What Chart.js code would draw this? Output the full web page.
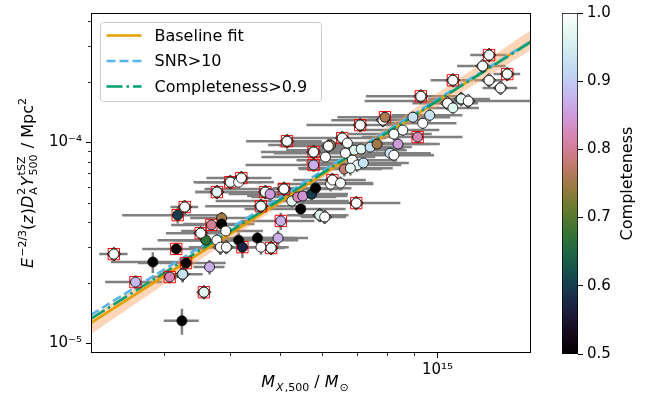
<!DOCTYPE html>
<html>
<head>
<meta charset="utf-8">
<script src="https://cdn.jsdelivr.net/npm/chart.js@4.4.0/dist/chart.umd.min.js"></script>
<style>
  html, body { margin: 0; padding: 0; background: #fff; }
  #wrap { position: relative; width: 649px; height: 404px; }
  #main { position: absolute; left: 0; top: 0; }
  #cbar { position: absolute; left: 540px; top: 0; }
</style>
</head>
<body>
<div id="wrap">
  <canvas id="main" width="540" height="404"></canvas>
  <canvas id="cbar" width="109" height="404"></canvas>
</div>
<script>
const FAMILY = '"DejaVu Sans", sans-serif';

// cluster mass in 1e14 Msun, and its error
const mass = [2.40, 2.64, 2.85, 3.16, 3.30, 3.07, 3.25, 3.66, 3.57, 3.24,
  3.28, 3.18, 3.60, 3.52, 3.69, 3.86, 3.86, 3.93, 3.78, 3.84,
  3.94, 4.16, 4.23, 4.52, 4.59, 4.80, 4.95, 5.01, 5.47, 4.59,
  4.68, 4.78, 5.08, 5.26, 5.40, 5.52, 5.74, 5.84, 5.95, 6.08,
  6.24, 6.29, 6.52, 6.99, 5.79, 5.79, 6.10, 6.24, 6.18, 6.57,
  6.72, 6.93, 7.14, 7.43, 7.66, 6.66, 6.87, 7.02, 7.21, 6.63,
  6.81, 7.11, 7.86, 7.93, 8.11, 8.25, 8.40, 8.25, 8.58, 8.97,
  9.16, 9.37, 9.66, 9.29, 10.45, 10.7, 11.1, 11.45, 10.7, 12.55,
  12.2, 13.6, 12.55, 13.2, 5.15, 3.78, 4.01, 4.16, 4.21];
const massErr = [0.15, 0.33, 0.48, 0.44, 0.63, 0.23, 0.3, 0.25, 0.1, 0.25,
  0.2, 0.69, 0.5, 0.5, 0.6, 0.5, 0.6, 0.7, 0.6, 0.5,
  0.4, 1.25, 0.3, 0.8, 0.6, 0.3, 0.7, 0.8, 1.2, 1.0,
  1.24, 0.8, 1.5, 1.5, 1.0, 1.2, 1.0, 1.0, 0.8, 0.6,
  1.3, 1.0, 1.0, 1.5, 1.5, 1.2, 1.5, 1.5, 1.2, 1.4,
  1.5, 1.8, 1.5, 1.5, 2.0, 1.8, 1.5, 1.5, 1.6, 1.2,
  1.4, 1.5, 1.6, 1.5, 1.6, 1.6, 1.7, 1.5, 1.5, 1.6,
  2.0, 1.5, 1.5, 2.0, 1.5, 1.3, 1.5, 4.2, 1.0, 1.0,
  1.3, 0.8, 0.8, 1.0, 0.85, 0.34, 0.6, 0.7, 0.6];

// E^-2/3 D_A^2 Y in 1e-5 Mpc^2, and its error
const ysz = [2.77, 2.01, 2.53, 2.94, 2.50, 2.13, 2.20, 2.39, 1.79, 1.29,
  4.75, 4.33, 3.25, 3.52, 3.87, 4.19, 3.91, 3.61, 3.25, 3.00,
  3.00, 3.25, 3.00, 3.33, 3.00, 2.97, 3.33, 4.05, 4.64, 4.80,
  5.64, 5.51, 5.84, 5.09, 5.33, 5.39, 5.51, 5.90, 4.33, 4.24,
  6.18, 6.47, 6.25, 4.97, 7.69, 8.92, 8.42, 9.66, 9.55, 10.47,
  9.89, 9.12, 9.23, 9.44, 9.77, 8.81, 8.13, 7.69, 7.87, 7.34,
  7.42, 12.15, 12.86, 13.3, 8.81, 8.61, 9.77, 10.96, 11.47, 13.3,
  10.59, 12.4, 13.6, 16.9, 15.6, 14.8, 16.4, 16.0, 20.3, 27.1,
  23.9, 21.8, 20.3, 18.6, 10.1, 5.64, 6.32, 6.32, 6.62];
const yszErr = [0.15, 0.16, 0.3, 0.2, 0.25, 0.15, 0.2, 0.2, 0.1, 0.19,
  0.25, 0.4, 0.25, 0.2, 0.3, 0.3, 0.3, 0.3, 0.25, 0.25,
  0.2, 0.3, 0.35, 0.3, 0.25, 0.2, 0.3, 0.4, 0.4, 0.4,
  0.4, 0.4, 0.5, 0.4, 0.4, 0.5, 0.5, 0.5, 0.3, 0.3,
  0.5, 0.5, 0.5, 0.35, 0.6, 0.7, 0.7, 0.7, 0.7, 0.8,
  0.7, 0.7, 0.7, 0.7, 0.8, 0.6, 0.6, 0.6, 0.6, 0.6,
  0.6, 0.9, 0.9, 1.0, 0.7, 0.7, 0.8, 0.8, 0.8, 1.0,
  0.8, 0.9, 1.0, 1.1, 1.0, 1.0, 1.2, 1.0, 1.3, 1.8,
  1.5, 1.5, 1.3, 1.2, 0.8, 0.4, 0.5, 0.5, 0.5];

// completeness of each cluster (colour)
const compl = [1.0, 0.88, 0.5, 0.5, 0.5, 0.82, 0.93, 0.87, 0.97, 0.5,
  1.0, 0.6, 0.67, 1.0, 0.8, 0.75, 0.5, 1.0, 1.0, 1.0,
  1.0, 0.5, 0.57, 0.5, 1.0, 1.0, 0.87, 0.87, 0.5, 1.0,
  1.0, 0.85, 1.0, 0.97, 0.82, 0.84, 0.6, 0.5, 0.97, 1.0,
  1.0, 1.0, 1.0, 1.0, 0.87, 1.0, 1.0, 0.75, 1.0, 1.0,
  1.0, 0.97, 0.97, 0.93, 0.75, 1.0, 1.0, 0.97, 0.93, 0.78,
  0.97, 1.0, 1.0, 0.76, 0.93, 1.0, 0.85, 1.0, 1.0, 0.93,
  0.82, 1.0, 0.93, 1.0, 1.0, 0.97, 0.97, 1.0, 1.0, 1.0,
  1.0, 1.0, 1.0, 1.0, 1.0, 0.97, 1.0, 1.0, 1.0];

// marker flags: red square, black diamond
const hasSquare = [1, 1, 0, 1, 1, 1, 0, 0, 1, 0,
  1, 1, 0, 1, 1, 0, 0, 0, 0, 0,
  0, 0, 1, 0, 0, 1, 0, 1, 0, 1,
  1, 0, 1, 0, 0, 0, 0, 0, 0, 0,
  0, 1, 0, 1, 1, 1, 0, 0, 0, 1,
  0, 0, 0, 0, 0, 0, 0, 0, 0, 0,
  0, 1, 0, 1, 0, 0, 0, 0, 0, 0,
  1, 0, 0, 1, 0, 0, 0, 0, 1, 1,
  0, 1, 0, 0, 1, 1, 1, 0, 1];
const hasDiamond = [1, 0, 0, 0, 0, 0, 1, 0, 1, 0,
  1, 0, 0, 1, 0, 0, 0, 0, 0, 1,
  1, 0, 0, 0, 0, 1, 0, 0, 0, 1,
  1, 0, 1, 0, 0, 0, 0, 0, 1, 1,
  0, 1, 0, 1, 0, 1, 0, 0, 1, 1,
  0, 0, 0, 0, 0, 0, 0, 0, 0, 0,
  0, 1, 1, 0, 0, 0, 0, 0, 0, 0,
  0, 0, 0, 1, 1, 0, 1, 1, 1, 1,
  1, 1, 1, 1, 1, 1, 1, 0, 1];

// fitted relations (1e14 Msun -> 1e-5 Mpc^2)
const fitMass = [2.17, 15.1];
const baselineY = [1.26, 31.8];
const snrY = [1.38, 31.8];
const complY = [1.32, 31.5];
const bandMass = [2.17, 5.7, 15.1];
const bandHi = [1.36, 6.56, 36.1];
const bandLo = [1.11, 6.10, 28.7];

// axes
const xMin = 2.17e14, xMax = 1.51e15;
const yMin = 8.92e-6, yMax = 4.39e-4;
const xMajor = [1e15], xMajorText = ['10¹⁵'];
const xMinor = [3e14, 4e14, 5e14, 6e14, 7e14, 8e14, 9e14];
const yMajor = [1e-5, 1e-4], yMajorText = ['10⁻⁵', '10⁻⁴'];
const yMinor = [2e-5, 3e-5, 4e-5, 5e-5, 6e-5, 7e-5, 8e-5, 9e-5, 2e-4, 3e-4, 4e-4];
const cbMin = 0.5, cbMax = 1.0;
const legendNames = ['Baseline fit', 'SNR>10', 'Completeness>0.9'];

// matplotlib cubehelix colormap
function cubehelix(t) {
  t = Math.min(1, Math.max(0, t));
  const phi = 2 * Math.PI * (0.5 / 3 - 1.5 * t);
  const a = t * (1 - t) / 2;
  const c = Math.cos(phi), s = Math.sin(phi);
  const r = t + a * (-0.14861 * c + 1.78277 * s);
  const g = t + a * (-0.29227 * c - 0.90649 * s);
  const b = t + a * (1.97294 * c);
  const f = v => Math.round(255 * Math.min(1, Math.max(0, v)));
  return `rgb(${f(r)},${f(g)},${f(b)})`;
}

// draw a label with simple super/subscripts
function fontStr(size, it) { return (it ? 'italic ' : '') + size + 'px ' + FAMILY; }
function drawRich(ctx, segs, x, y, size, rot) {
  const sm = Math.round(size * 0.7);
  const items = segs.map(s => {
    if (s.stack) {
      ctx.font = fontStr(sm, false);
      return { s, w: Math.max(ctx.measureText(s.stack[0]).width, ctx.measureText(s.stack[1]).width) + 1 };
    }
    ctx.font = fontStr(s.pos ? sm : size, s.it);
    return { s, w: ctx.measureText(s.t).width + (s.it ? 1 : 0) };
  });
  const total = items.reduce((acc, it) => acc + it.w, 0);
  ctx.save();
  ctx.translate(x, y);
  ctx.rotate(rot || 0);
  ctx.fillStyle = '#000';
  ctx.textAlign = 'left';
  ctx.textBaseline = 'alphabetic';
  let cx = -total / 2;
  const base = size * 0.36;
  items.forEach(({ s, w }) => {
    if (s.stack) {
      ctx.font = fontStr(sm, false);
      ctx.fillText(s.stack[0], cx, base - size * 0.48);
      ctx.fillText(s.stack[1], cx, base + size * 0.28);
    } else {
      ctx.font = fontStr(s.pos ? sm : size, s.it);
      const dy = s.pos === 'sup' ? -size * 0.45 : s.pos === 'sub' ? size * 0.28 : 0;
      ctx.fillText(s.t, cx, base + dy);
    }
    cx += w;
  });
  ctx.restore();
}

const yTitle = [{ t: 'E', it: 1 }, { t: '−2/3', pos: 'sup' }, { t: '(' }, { t: 'z', it: 1 }, { t: ')' },
  { t: 'D', it: 1 }, { stack: ['2', 'A'] }, { t: 'Y', it: 1 }, { stack: ['tSZ', '500'] },
  { t: ' / Mpc' }, { t: '2', pos: 'sup' }];
const xTitle = [{ t: 'M', it: 1 }, { t: 'X', pos: 'sub', it: 1 }, { t: ',500', pos: 'sub' },
  { t: ' / ' }, { t: 'M', it: 1 }, { t: '⊙', pos: 'sub' }];

const pts = mass.map((m, i) => ({ x: m * 1e14, y: ysz[i] * 1e-5 }));
const sqPts = pts.filter((p, i) => hasSquare[i]);
const diaPts = pts.filter((p, i) => hasDiamond[i]);
const ptColors = compl.map(c => cubehelix((c - cbMin) / (cbMax - cbMin)));
const toXY = (xs, ys) => xs.map((m, i) => ({ x: m * 1e14, y: ys[i] * 1e-5 }));

// gray error bars, under everything else
const errorBars = {
  id: 'errorBars',
  beforeDatasetsDraw(chart) {
    const { ctx, chartArea: a, scales: { x, y } } = chart;
    ctx.save();
    ctx.beginPath();
    ctx.rect(a.left, a.top, a.right - a.left, a.bottom - a.top);
    ctx.clip();
    ctx.strokeStyle = 'rgb(128,128,128)';
    ctx.lineWidth = 2.5;
    mass.forEach((m, i) => {
      const px = x.getPixelForValue(m * 1e14);
      const py = y.getPixelForValue(ysz[i] * 1e-5);
      ctx.beginPath();
      ctx.moveTo(x.getPixelForValue((m - massErr[i]) * 1e14), py);
      ctx.lineTo(x.getPixelForValue((m + massErr[i]) * 1e14), py);
      ctx.moveTo(px, y.getPixelForValue((ysz[i] - yszErr[i]) * 1e-5));
      ctx.lineTo(px, y.getPixelForValue((ysz[i] + yszErr[i]) * 1e-5));
      ctx.stroke();
    });
    ctx.restore();
  }
};

// frame, minor ticks, legend and axis titles
const decorations = {
  id: 'decorations',
  afterDatasetsDraw(chart) {
    const { ctx, chartArea: a, scales: { x, y } } = chart;
    ctx.save();
    ctx.strokeStyle = '#000';
    ctx.lineWidth = 1;
    ctx.strokeRect(Math.round(a.left) + 0.5, Math.round(a.top) + 0.5,
      Math.round(a.right - a.left) - 1, Math.round(a.bottom - a.top) - 1);
    ctx.lineWidth = 0.8;
    ctx.beginPath();
    xMinor.forEach(v => {
      const px = Math.round(x.getPixelForValue(v)) + 0.5;
      ctx.moveTo(px, a.bottom); ctx.lineTo(px, a.bottom + 3);
    });
    yMinor.forEach(v => {
      const py = Math.round(y.getPixelForValue(v)) + 0.5;
      ctx.moveTo(a.left, py); ctx.lineTo(a.left - 3, py);
    });
    ctx.stroke();

    // legend
    const bx = a.left + 9.5, by = a.top + 9.5, bw = 221, bh = 79;
    ctx.beginPath();
    ctx.roundRect(bx, by, bw, bh, 3);
    ctx.fillStyle = 'rgba(255,255,255,0.8)';
    ctx.fill();
    ctx.strokeStyle = '#cccccc';
    ctx.lineWidth = 1;
    ctx.stroke();
    legendNames.forEach((name, k) => {
      const ds = chart.data.datasets.find(d => d.label === name);
      const yy = by + 13 + k * 25.5;
      ctx.setLineDash(ds.borderDash || []);
      ctx.strokeStyle = ds.borderColor;
      ctx.lineWidth = ds.borderWidth;
      ctx.beginPath();
      ctx.moveTo(bx + 6, yy);
      ctx.lineTo(bx + 41, yy);
      ctx.stroke();
      ctx.setLineDash([]);
      ctx.fillStyle = '#000';
      ctx.font = '16px ' + FAMILY;
      ctx.textBaseline = 'middle';
      ctx.textAlign = 'left';
      ctx.fillText(name, bx + 54, yy + 1);
    });
    ctx.restore();

    drawRich(ctx, xTitle, (a.left + a.right) / 2 - 6, 381, 16, 0);
    drawRich(ctx, yTitle, 27, (a.top + a.bottom) / 2, 16, -Math.PI / 2);
  }
};

new Chart(document.getElementById('main'), {
  type: 'scatter',
  data: {
    datasets: [
      { label: 'points', type: 'scatter', data: pts, pointRadius: 5, pointBackgroundColor: ptColors,
        pointBorderColor: '#000', pointBorderWidth: 0.8, order: 0 },
      { label: 'diamonds', type: 'scatter', data: diaPts, pointStyle: 'rectRot', pointRadius: 7,
        pointBorderColor: '#222', pointBorderWidth: 1, pointBackgroundColor: 'rgba(0,0,0,0)', order: 1 },
      { label: 'squares', type: 'scatter', data: sqPts, pointStyle: 'rect', pointRadius: 8,
        pointBorderColor: '#ff0000', pointBorderWidth: 1, pointBackgroundColor: 'rgba(0,0,0,0)', order: 2 },
      { label: 'Completeness>0.9', type: 'line', data: toXY(fitMass, complY), borderColor: '#009E73',
        borderWidth: 2.5, borderDash: [16, 4, 2.5, 4], pointRadius: 0, fill: false, order: 3 },
      { label: 'SNR>10', type: 'line', data: toXY(fitMass, snrY), borderColor: '#56B4E9',
        borderWidth: 2.5, borderDash: [9, 4], pointRadius: 0, fill: false, order: 4 },
      { label: 'Baseline fit', type: 'line', data: toXY(fitMass, baselineY), borderColor: '#E69F00',
        borderWidth: 2.5, pointRadius: 0, fill: false, order: 5 },
      { label: 'band hi', type: 'line', data: toXY(bandMass, bandHi), borderWidth: 0, pointRadius: 0,
        borderColor: 'rgba(0,0,0,0)', backgroundColor: 'rgba(250,150,80,0.4)', fill: '+1', order: 6 },
      { label: 'band lo', type: 'line', data: toXY(bandMass, bandLo), borderWidth: 0, pointRadius: 0,
        borderColor: 'rgba(0,0,0,0)', fill: false, order: 7 }
    ]
  },
  options: {
    responsive: false,
    animation: false,
    devicePixelRatio: 1,
    layout: { padding: { left: 0, right: 5, top: 13, bottom: 0 } },
    plugins: { legend: { display: false }, tooltip: { enabled: false } },
    scales: {
      x: {
        type: 'logarithmic', min: xMin, max: xMax,
        afterBuildTicks: s => { s.ticks = xMajor.map(v => ({ value: v, major: true })); },
        afterFit: s => { s.height = 51; },
        ticks: { autoSkip: false, maxRotation: 0, padding: 3, color: '#000',
          font: { family: FAMILY, size: 15 }, callback: (v, i) => xMajorText[i] },
        grid: { drawOnChartArea: false, tickLength: 5, tickColor: '#000', tickWidth: 1 },
        border: { display: false }
      },
      y: {
        type: 'logarithmic', min: yMin, max: yMax,
        afterBuildTicks: s => { s.ticks = yMajor.map(v => ({ value: v, major: true })); },
        afterFit: s => { s.width = 91; },
        ticks: { autoSkip: false, padding: 4, color: '#000',
          font: { family: FAMILY, size: 15 }, callback: (v, i) => yMajorText[i] },
        grid: { drawOnChartArea: false, tickLength: 5, tickColor: '#000', tickWidth: 1 },
        border: { display: false }
      }
    }
  },
  plugins: [errorBars, decorations]
});

// colorbar as a single floating bar with a gradient fill
const cbTitle = {
  id: 'cbTitle',
  afterDraw(chart) {
    const ctx = chart.ctx;
    ctx.save();
    ctx.translate(88, (chart.chartArea.top + chart.chartArea.bottom) / 2);
    ctx.rotate(-Math.PI / 2);
    ctx.fillStyle = '#000';
    ctx.font = '16px ' + FAMILY;
    ctx.textAlign = 'center';
    ctx.textBaseline = 'middle';
    ctx.fillText('Completeness', 0, 0);
    ctx.restore();
  }
};

new Chart(document.getElementById('cbar'), {
  type: 'bar',
  data: {
    labels: [''],
    datasets: [{
      data: [[cbMin, cbMax]],
      backgroundColor: c => {
        const { ctx, chartArea } = c.chart;
        if (!chartArea) return '#000';
        const g = ctx.createLinearGradient(0, chartArea.bottom, 0, chartArea.top);
        for (let k = 0; k <= 40; k++) g.addColorStop(k / 40, cubehelix(k / 40));
        return g;
      },
      borderColor: '#000', borderWidth: 1, borderSkipped: false,
      barPercentage: 1, categoryPercentage: 1
    }]
  },
  options: {
    responsive: false,
    animation: false,
    devicePixelRatio: 1,
    layout: { padding: { left: 22, right: 0, top: 13, bottom: 50 } },
    plugins: { legend: { display: false }, tooltip: { enabled: false } },
    scales: {
      x: { display: false },
      y: {
        position: 'right', min: cbMin, max: cbMax,
        afterFit: s => { s.width = 71; },
        ticks: { stepSize: 0.1, padding: 4, color: '#000', font: { family: FAMILY, size: 15 },
          callback: v => v.toFixed(1) },
        grid: { drawOnChartArea: false, tickLength: 5, tickColor: '#000' },
        border: { display: false }
      }
    }
  },
  plugins: [cbTitle]
});
</script>
</body>
</html>
